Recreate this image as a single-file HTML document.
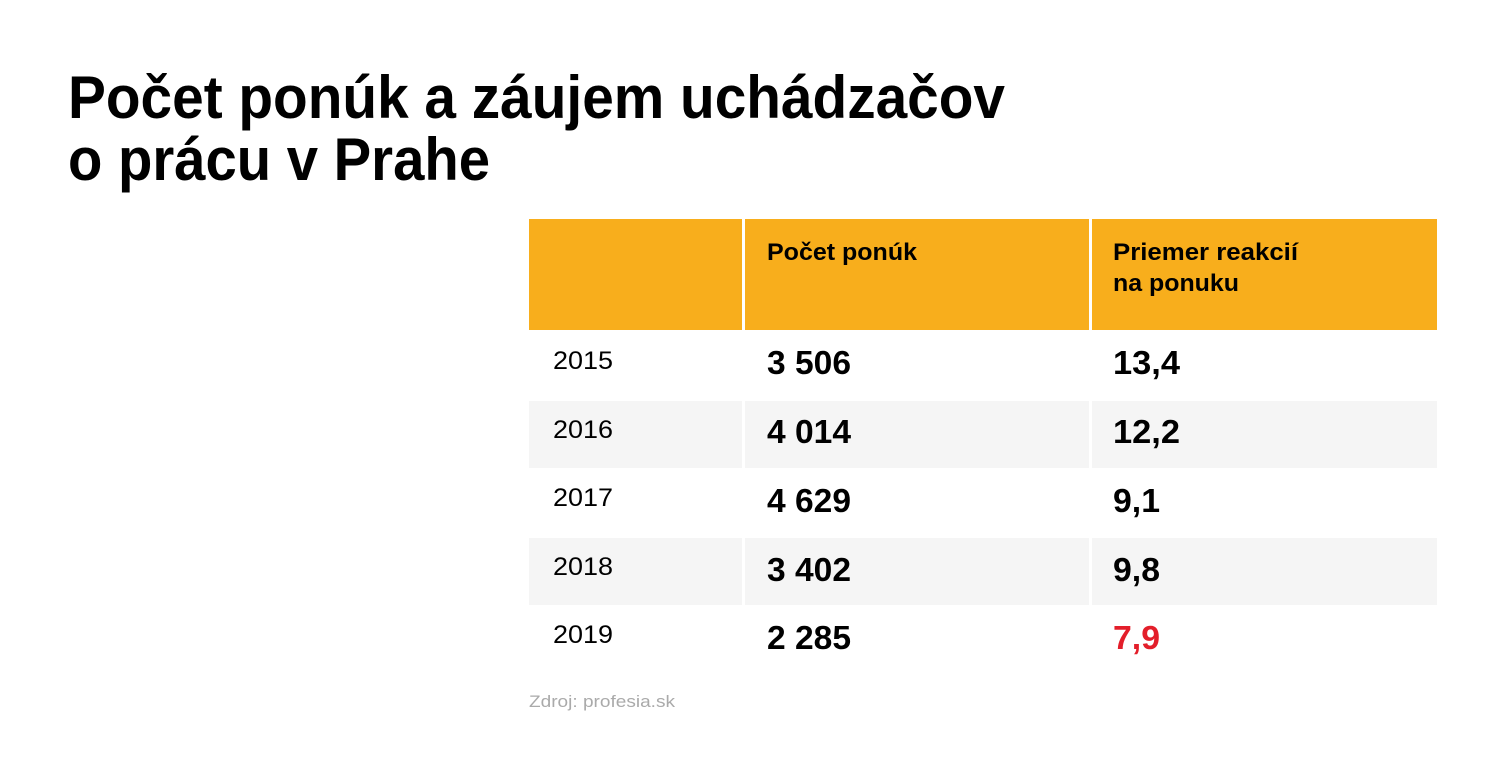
<!DOCTYPE html>
<html><head><meta charset="utf-8"><style>html,body{margin:0;padding:0;background:#fff}svg{display:block}</style></head>
<body>
<svg width="1501" height="784" xmlns="http://www.w3.org/2000/svg" font-family="'Liberation Sans', sans-serif">
<rect width="1501" height="784" fill="#fff"/>
<text x="68" y="118" font-size="60" font-weight="bold" textLength="937" lengthAdjust="spacingAndGlyphs">Počet ponúk a záujem uchádzačov</text>
<text x="68" y="180" font-size="60" font-weight="bold" textLength="422" lengthAdjust="spacingAndGlyphs">o prácu v Prahe</text>
<g fill="#f8ae1c">
<rect x="529" y="219" width="213" height="111"/>
<rect x="745" y="219" width="344" height="111"/>
<rect x="1092" y="219" width="345" height="111"/>
</g>
<g fill="#f5f5f5">
<rect x="529" y="401" width="213" height="67"/><rect x="745" y="401" width="344" height="67"/><rect x="1092" y="401" width="345" height="67"/>
<rect x="529" y="538" width="213" height="67"/><rect x="745" y="538" width="344" height="67"/><rect x="1092" y="538" width="345" height="67"/>
</g>
<g font-size="24" font-weight="bold">
<text x="767" y="260" textLength="150" lengthAdjust="spacingAndGlyphs">Počet ponúk</text>
<text x="1113" y="260" textLength="185" lengthAdjust="spacingAndGlyphs">Priemer reakcií</text>
<text x="1113" y="291" textLength="126" lengthAdjust="spacingAndGlyphs">na ponuku</text>
</g>
<g font-size="25">
<text x="553" y="369" textLength="60" lengthAdjust="spacingAndGlyphs">2015</text>
<text x="553" y="438" textLength="60" lengthAdjust="spacingAndGlyphs">2016</text>
<text x="553" y="506" textLength="60" lengthAdjust="spacingAndGlyphs">2017</text>
<text x="553" y="575" textLength="60" lengthAdjust="spacingAndGlyphs">2018</text>
<text x="553" y="643" textLength="60" lengthAdjust="spacingAndGlyphs">2019</text>
</g>
<g font-size="33" font-weight="bold">
<text x="767" y="374" textLength="84" lengthAdjust="spacingAndGlyphs">3 506</text>
<text x="767" y="443" textLength="84" lengthAdjust="spacingAndGlyphs">4 014</text>
<text x="767" y="512" textLength="84" lengthAdjust="spacingAndGlyphs">4 629</text>
<text x="767" y="581" textLength="84" lengthAdjust="spacingAndGlyphs">3 402</text>
<text x="767" y="649" textLength="84" lengthAdjust="spacingAndGlyphs">2 285</text>
<text x="1113" y="374" textLength="67" lengthAdjust="spacingAndGlyphs">13,4</text>
<text x="1113" y="443" textLength="67" lengthAdjust="spacingAndGlyphs">12,2</text>
<text x="1113" y="512" textLength="47" lengthAdjust="spacingAndGlyphs">9,1</text>
<text x="1113" y="581" textLength="47" lengthAdjust="spacingAndGlyphs">9,8</text>
<text x="1113" y="649" textLength="47" lengthAdjust="spacingAndGlyphs" fill="#e31e2a">7,9</text>
</g>
<text x="529" y="707" font-size="17" fill="#aaaaaa" textLength="146" lengthAdjust="spacingAndGlyphs">Zdroj: profesia.sk</text>
</svg>
</body></html>
